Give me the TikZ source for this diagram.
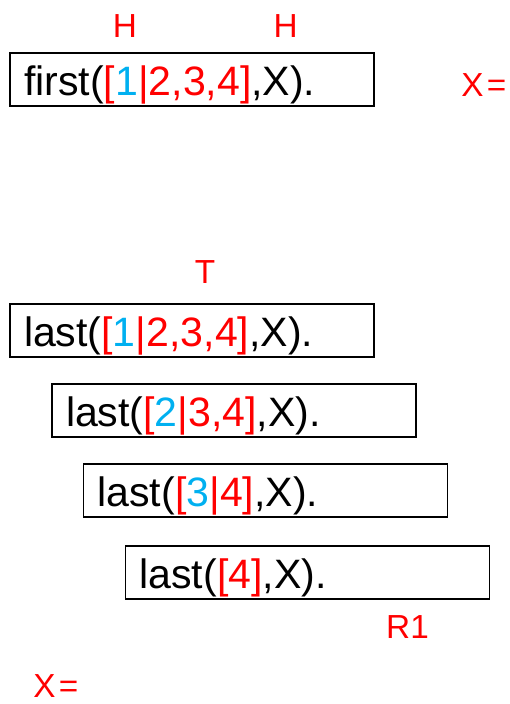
\documentclass[tikz,border=0pt]{standalone}
\usepackage{fontspec}
\setmainfont{Liberation Sans}
\definecolor{listred}{RGB}{255,0,0}
\definecolor{headblue}{RGB}{0,176,240}
\newcommand{\redpart}[1]{\textcolor{listred}{#1}}
\newcommand{\bluepart}[1]{\textcolor{headblue}{#1}}
\newcommand{\xeq}{X\kern2.5pt=}
\begin{document}
\begin{tikzpicture}[x=0.75pt,y=-0.75pt,
  goal/.style={draw, line width=1pt, rectangle, inner xsep=10.5pt, inner ysep=0pt,
    text width=252pt, align=left, text height=32pt, text depth=7.75pt,
    font=\fontsize{30.8}{36}\selectfont},
  lbl/.style={text=listred, inner sep=0pt, anchor=base,
    font=\fontsize{25}{30}\selectfont}]
\useasboundingbox (0,0) rectangle (510,704);

% query for first/2
\node[goal] (q1) at (192,79.5) {first(\redpart{[}\bluepart{1}\redpart{|2,3,4]},X).};
\node[lbl] (h1) at (125,37) {H};
\node[lbl] (h2) at (285.7,37) {H};
\node[lbl, anchor=base west] (x1) at (461,96) {\xeq};

% recursive calls of last/2
\node[lbl] (t) at (205,283) {T};
\node[goal] (l1) at (192,330.5) {last(\redpart{[}\bluepart{1}\redpart{|2,3,4]},X).};
\node[goal] (l2) at (234,410.5) {last(\redpart{[}\bluepart{2}\redpart{|3,4]},X).};
\node[goal] (l3) at (265.5,490.5) {last(\redpart{[}\bluepart{3}\redpart{|4]},X).};
\node[goal] (l4) at (307.5,572.5) {last(\redpart{[4]},X).};
\node[lbl] (r1) at (407.5,638) {R1};
\node[lbl, anchor=base west] (x2) at (33,697) {\xeq};
\end{tikzpicture}
\end{document}
